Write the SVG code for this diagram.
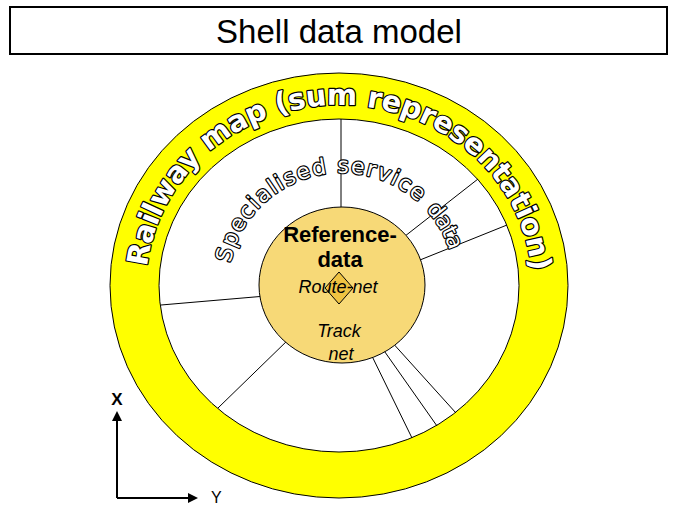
<svg xmlns="http://www.w3.org/2000/svg" width="676" height="506" viewBox="0 0 676 506">
  <style>
    .outline { stroke: #000; stroke-width: 1; }
    .spoke { stroke: #000; stroke-width: 1; fill: none; }
    .axis { stroke: #000; stroke-width: 2; fill: none; }
    .title { font-family: "Liberation Sans", Arial, sans-serif; font-size: 33px; fill: #000; }
    .arch { font-family: "DejaVu Sans", Verdana, sans-serif; fill: #fff; stroke: #000; stroke-width: 2.4; stroke-linejoin: round; paint-order: stroke; }
    .core { font-family: "Liberation Sans", Arial, sans-serif; fill: #000; text-anchor: middle; }
  </style>
  <defs>
    <marker id="arrow" viewBox="0 0 10 10" refX="0" refY="5" markerWidth="5" markerHeight="5" orient="auto" markerUnits="strokeWidth">
      <path d="M0,0 L10,5 L0,10 z" fill="#000"/>
    </marker>
    <!-- baseline for the outer shell label -->
    <path id="outerArc" d="M147.1,266.7 A193,181 0 0 1 530.9,266.7"/>
    <!-- baseline for the middle shell label -->
    <path id="innerArc" d="M230.5,263.1 A113,110 0 0 1 453.3,265.9"/>
  </defs>

  <g id="title">
    <rect x="10" y="7" width="657" height="47" fill="#fff" stroke="#000" stroke-width="2"/>
    <text class="title" x="339" y="43" text-anchor="middle">Shell data model</text>
  </g>

  <g id="railway-map">
    <ellipse cx="339" cy="285.5" rx="229" ry="212.5" fill="#ffff00" class="outline"/>
    <ellipse cx="339" cy="285.5" rx="180" ry="166.5" fill="#fff" class="outline"/>
  </g>

  <g id="connectors">
    <line class="spoke" x1="341" y1="119" x2="341" y2="215"/>
    <line class="spoke" x1="478" y1="179" x2="400" y2="240"/>
    <line class="spoke" x1="507" y1="225" x2="410" y2="264"/>
    <line class="spoke" x1="161" y1="305" x2="266" y2="296"/>
    <line class="spoke" x1="218" y1="408" x2="290" y2="338"/>
    <line class="spoke" x1="412" y1="438" x2="369" y2="350"/>
    <line class="spoke" x1="437" y1="426" x2="380" y2="345"/>
    <line class="spoke" x1="456" y1="413" x2="390" y2="340"/>
  </g>

  <g id="reference-data">
    <ellipse cx="342" cy="285" rx="83" ry="78" fill="#f7d977" class="outline"/>
    <text class="core" x="340" y="242" font-size="22" font-weight="bold">Reference-</text>
    <text class="core" x="340" y="267" font-size="22" font-weight="bold">data</text>
  </g>

  <g id="route-net">
    <polygon points="339,272 353,288 339,304 325,288" fill="#efc342" class="outline"/>
    <text class="core" x="338" y="293" font-size="18" font-style="italic">Route-net</text>
  </g>

  <g id="track-net">
    <text class="core" x="339" y="337" font-size="18" font-style="italic">Track</text>
    <text class="core" x="341" y="360" font-size="18" font-style="italic">net</text>
  </g>

  <g id="railway-label">
    <text class="arch" font-size="29" font-weight="bold" letter-spacing="-0.4">
      <textPath href="#outerArc">Railway map (sum representation)</textPath>
    </text>
  </g>

  <g id="service-label">
    <text class="arch" font-size="22" stroke-width="2">
      <textPath href="#innerArc"><tspan letter-spacing="1.6">Specialised service </tspan><tspan letter-spacing="-0.5">data</tspan></textPath>
    </text>
  </g>

  <g id="axes">
    <line class="axis" x1="117" y1="498" x2="117" y2="421" marker-end="url(#arrow)"/>
    <line class="axis" x1="117" y1="498" x2="188" y2="498" marker-end="url(#arrow)"/>
    <text x="117" y="405" text-anchor="middle" font-family="Liberation Sans, Arial, sans-serif" font-size="17" font-weight="bold">X</text>
    <text x="211" y="503" font-family="Liberation Sans, Arial, sans-serif" font-size="16">Y</text>
  </g>
</svg>
